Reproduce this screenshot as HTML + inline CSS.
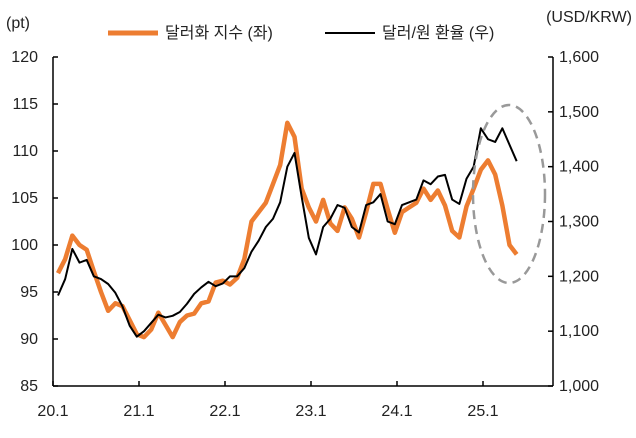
<!DOCTYPE html>
<html><head><meta charset="utf-8"><style>
body{margin:0;background:#fff;}
svg text{font-family:"Liberation Sans","Noto Sans CJK KR",sans-serif;font-size:16px;fill:#222;}
</style></head><body>
<svg id="chart" width="636" height="433" xmlns="http://www.w3.org/2000/svg">
<text x="6" y="28">(pt)</text>
<text x="632" y="22" text-anchor="end">(USD/KRW)</text>
<g>
<line x1="108" y1="33" x2="158" y2="33" stroke="#ED7D31" stroke-width="5"/>
<text x="165" y="38">달러화 지수 (좌)</text>
<line x1="325" y1="33" x2="375" y2="33" stroke="#000" stroke-width="2"/>
<text x="382" y="38">달러/원 환율 (우)</text>
</g>
<g id="axes"></g>
<g id="series"></g>
<ellipse cx="509" cy="194" rx="36" ry="89" fill="none" stroke="#999" stroke-width="2.5" stroke-dasharray="9,6"/>
</svg>
<script>
const leftTicks=[85,90,95,100,105,110,115,120];
const rightTicks=[1000,1100,1200,1300,1400,1500,1600];
const rightTickLabels=["1,000","1,100","1,200","1,300","1,400","1,500","1,600"];
const xTickLabels=["20.1","21.1","22.1","23.1","24.1","25.1"];
const dxy=[97,98.5,101,100,99.5,97.2,95,93,93.8,93.5,92,90.5,90.2,91,92.8,91.5,90.2,91.8,92.5,92.7,93.8,94,96,96.2,95.8,96.5,98.5,102.5,103.5,104.5,106.5,108.5,113,111.5,106,104,102.5,104.8,102.3,101.5,104,102.8,100.8,103.5,106.5,106.5,103.8,101.3,103.5,104,104.5,106,104.8,105.8,104.2,101.5,100.8,104.1,106,108,109,107.5,104.2,100,99];
const krw=[1165,1195,1250,1225,1230,1200,1195,1186,1170,1145,1110,1090,1100,1115,1130,1125,1128,1135,1150,1168,1180,1190,1182,1187,1200,1200,1215,1245,1265,1290,1305,1335,1400,1425,1345,1270,1240,1290,1305,1330,1325,1290,1280,1330,1335,1350,1300,1295,1330,1335,1340,1375,1368,1382,1385,1340,1332,1378,1400,1470,1450,1445,1470,1440,1410];
const X0=53,YR=86,B=386,XR=553;
const yL=v=>B-(v-85)/35*(B-57);
const yR=v=>B-(v-1000)/600*(B-57);
const xM=i=>X0+i*YR/12+5;
const NS="http://www.w3.org/2000/svg";
const ax=document.getElementById('axes'),se=document.getElementById('series');
function mk(p,tag,a,txt){const e=document.createElementNS(NS,tag);for(const k in a)e.setAttribute(k,a[k]);if(txt!==undefined)e.textContent=txt;p.appendChild(e);return e;}
let e;
e=mk(ax,'line',{x1:X0,y1:57,x2:X0,y2:B,stroke:'#000','stroke-width':1.5});


e=mk(ax,'line',{x1:XR,y1:57,x2:XR,y2:B,stroke:'#000','stroke-width':1.5});


e=mk(ax,'line',{x1:X0,y1:B,x2:XR,y2:B,stroke:'#000','stroke-width':1.5});


leftTicks.forEach(v=>{
 mk(ax,'line',{x1:X0,y1:yL(v),x2:X0+5,y2:yL(v),stroke:'#000','stroke-width':1.5});
 e=mk(ax,'text',{x:38,y:yL(v)+5,'text-anchor':'end'},String(v));
 
 
});
rightTicks.forEach((v,i)=>{
 mk(ax,'line',{x1:XR-5,y1:yR(v),x2:XR,y2:yR(v),stroke:'#000','stroke-width':1.5});
 e=mk(ax,'text',{x:559,y:yR(v)+5},rightTickLabels[i]);
 
 
});
xTickLabels.forEach((t,i)=>{
 const x=X0+i*YR;
 mk(ax,'line',{x1:x,y1:B,x2:x,y2:B-5,stroke:'#000','stroke-width':1.5});
 e=mk(ax,'text',{x:x,y:416,'text-anchor':'middle'},t);
 
 
});
e=mk(se,'polyline',{points:dxy.map((v,i)=>xM(i)+','+yL(v)).join(' '),fill:'none',stroke:'#ED7D31','stroke-width':4.5,'stroke-linejoin':'round'});


e=mk(se,'polyline',{points:krw.map((v,i)=>xM(i)+','+yR(v)).join(' '),fill:'none',stroke:'#000','stroke-width':2,'stroke-linejoin':'round'});


</script>
</body></html>
